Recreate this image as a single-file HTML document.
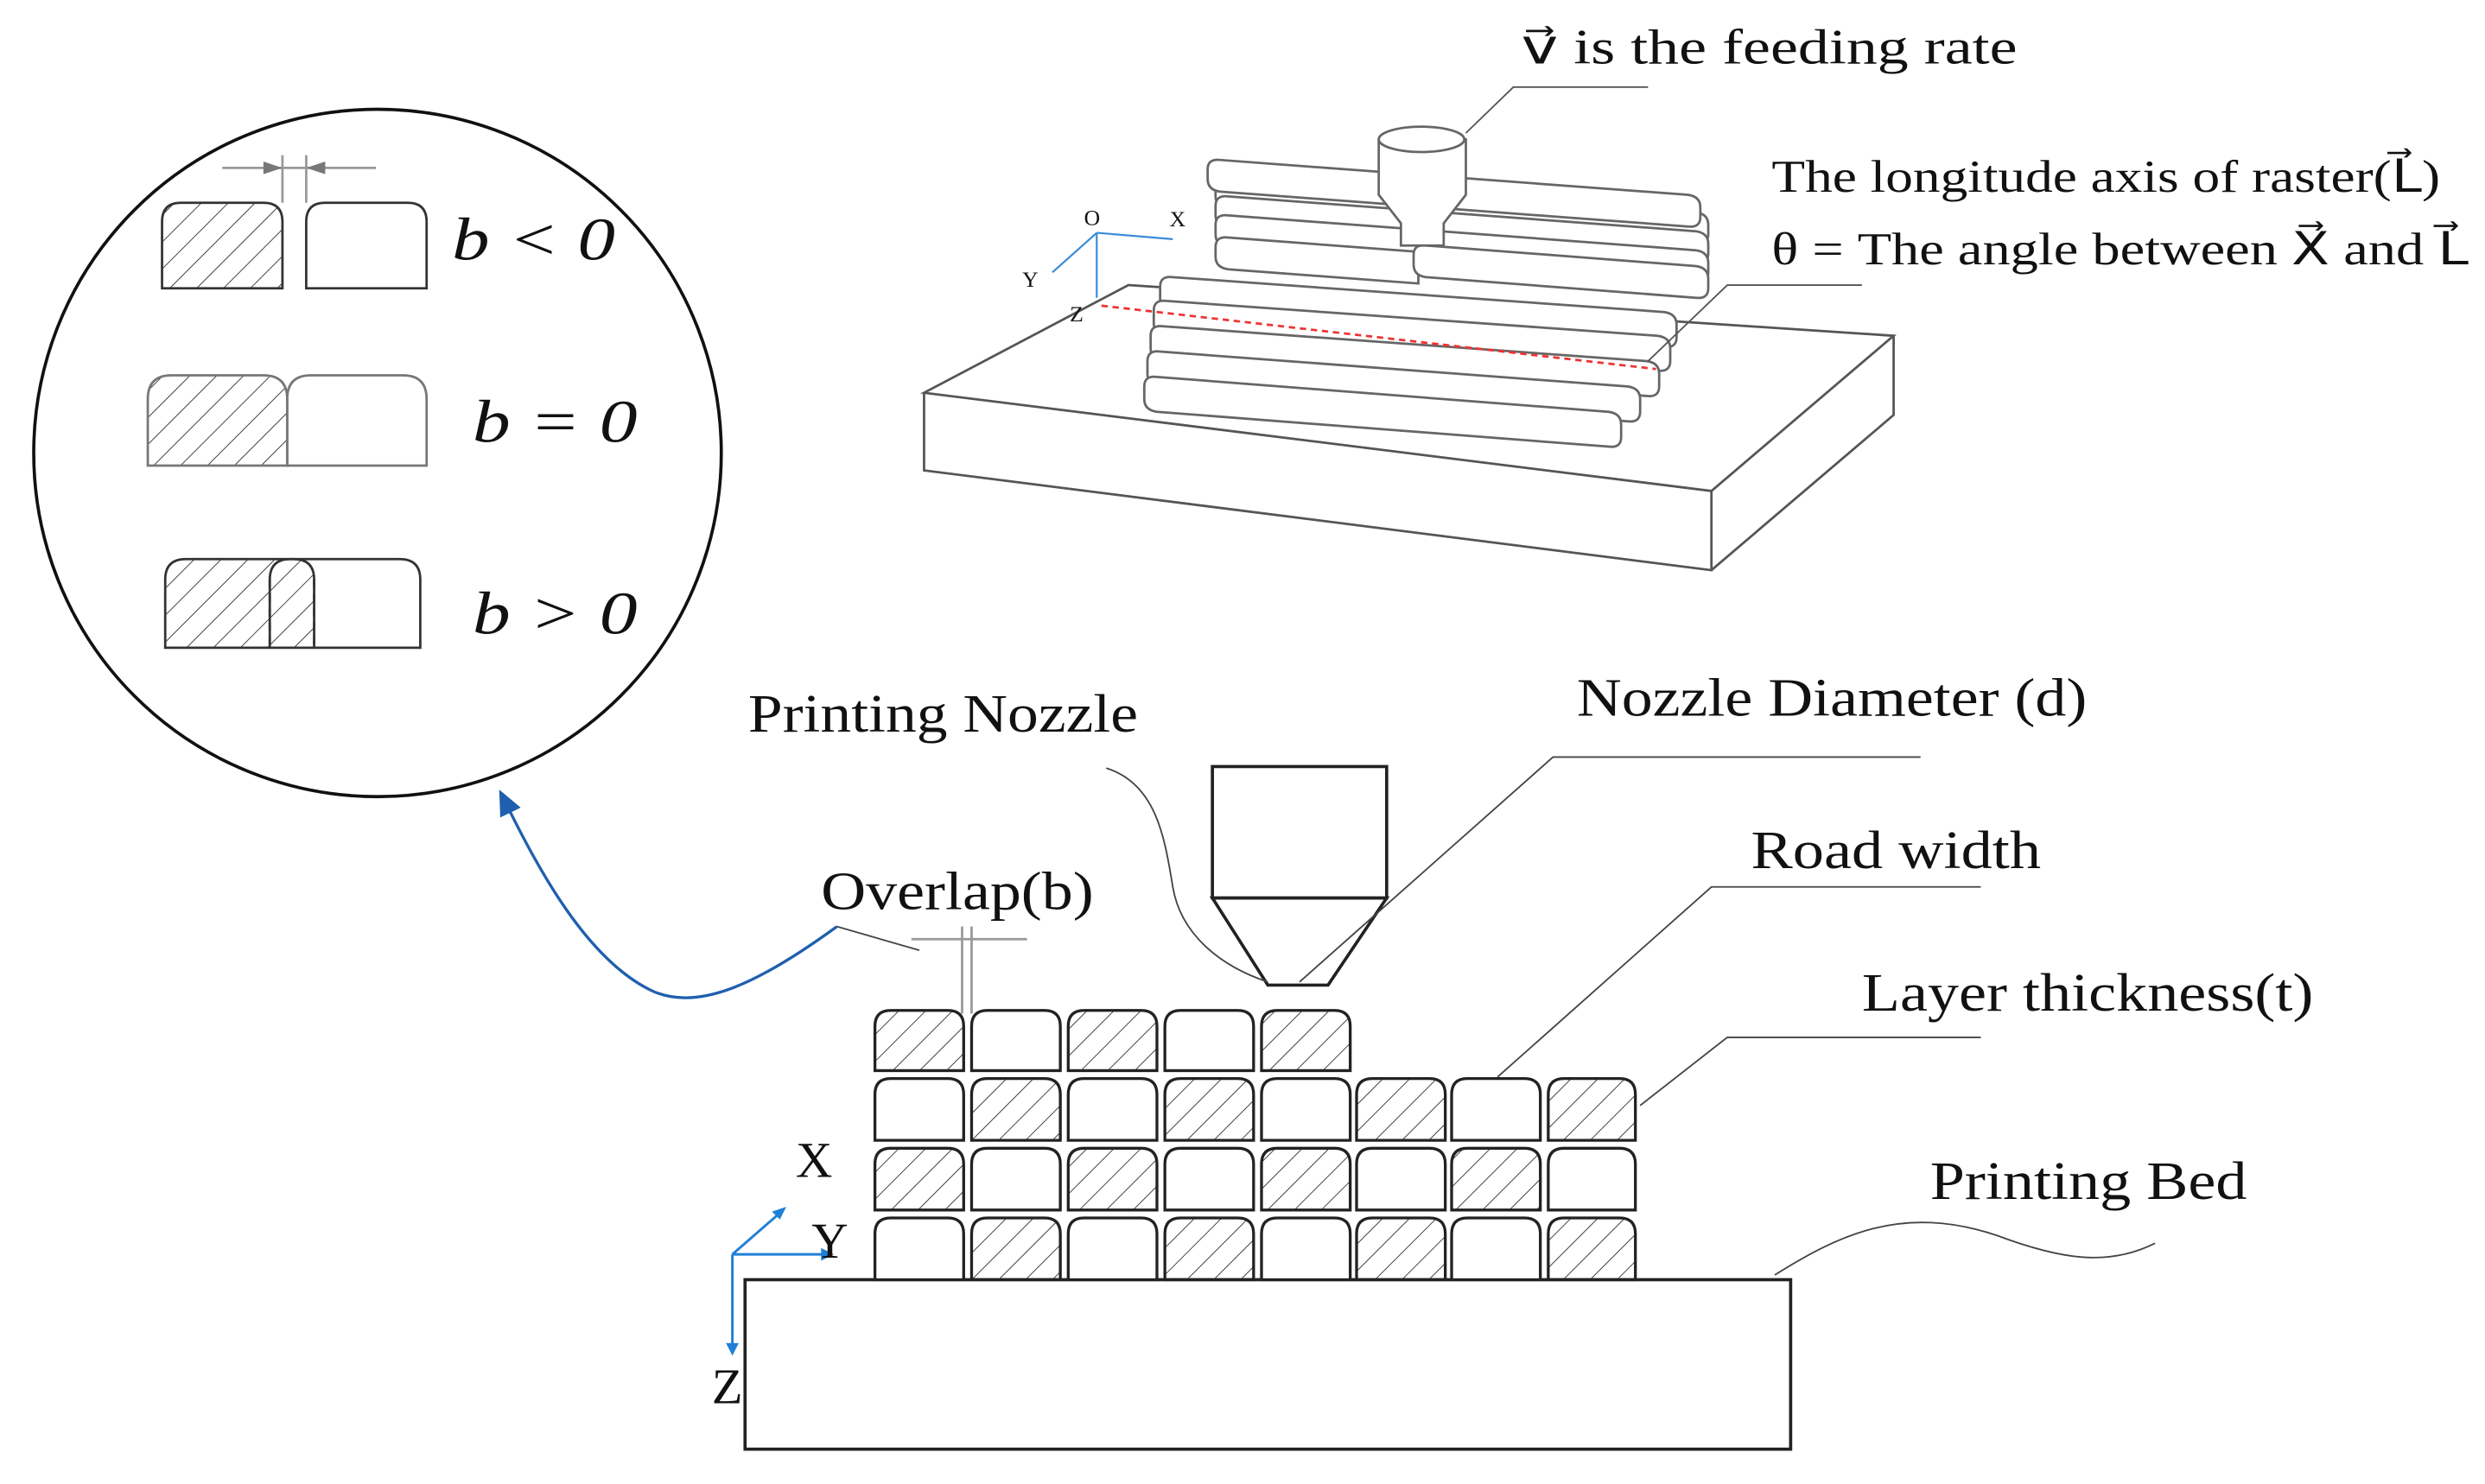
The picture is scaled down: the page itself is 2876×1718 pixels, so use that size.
<!DOCTYPE html>
<html><head><style>
html,body{margin:0;padding:0;background:#fff;}
svg{display:block;}
text{font-family:"Liberation Serif",serif;fill:#111;}
</style></head><body>
<svg width="2876" height="1718" viewBox="0 0 1568 937" xmlns="http://www.w3.org/2000/svg">
<defs>
<pattern id="h" width="12" height="12" patternUnits="userSpaceOnUse" patternTransform="rotate(45)">
<line x1="0" y1="0" x2="0" y2="12" stroke="#333" stroke-width="1"/>
</pattern>
<marker id="ar" markerWidth="10" markerHeight="10" refX="5" refY="5" orient="auto"><path d="M0,1 L9,5 L0,9 z" fill="#1f5fae"/></marker>
</defs>
<g fill="none" stroke="#333" stroke-width="1.5">
<circle cx="238" cy="286" r="217" stroke="#111" stroke-width="2"/>
<path d="M102,182 V140 q0,-12 12,-12 H166 q12,0 12,12 V182 Z" fill="url(#h)"/>
<path d="M193,182 V140 q0,-12 12,-12 H257 q12,0 12,12 V182 Z"/>
<line x1="178" y1="98" x2="178" y2="128" stroke="#999"/><line x1="193" y1="98" x2="193" y2="128" stroke="#999"/>
<line x1="140" y1="106" x2="237" y2="106" stroke="#999"/>
<path d="M178,106 l-12,-4 v8z M193,106 l12,-4 v8z" fill="#777" stroke="none"/>
<path d="M93,294 V252 q0,-15 15,-15 H166 q15,0 15,15 V294 Z" fill="url(#h)" stroke="#777"/>
<path d="M181,294 V252 q0,-15 15,-15 H254 q15,0 15,15 V294 Z" stroke="#777"/>
<path d="M104,409 V366 q0,-13 13,-13 H185 q13,0 13,13 V409 Z" fill="url(#h)"/>
<path d="M198,409 H265 V366 q0,-13 -13,-13 H183 q-13,0 -13,13 V409" />
<line x1="170" y1="366" x2="170" y2="409" stroke-dasharray="5,4"/>
<line x1="198" y1="366" x2="198" y2="409" stroke-dasharray="5,4"/>
<path d="M528,585 C480,620 440,640 410,625 C370,605 340,550 318,505" stroke="#1f5fae" stroke-width="1.8" marker-end="url(#ar)"/>
<path d="M583,248 L712,180 L1195,212 L1080,310 Z" stroke="#555"/>
<path d="M583,248 V297 L1080,360 V310" stroke="#555"/>
<path d="M1080,360 L1195,262 V212" stroke="#555"/>
<g stroke="#666" fill="#fff">
<path d="M775,112 l295,22 q8,1 8,8 v6 q0,7 -8,6 l-295,-22 q-8,-1 -8,-8 v-6 q0,-7 8,-6z"/>
<path d="M775,124 l295,22 q8,1 8,8 v6 q0,7 -8,6 l-295,-22 q-8,-1 -8,-8 v-6 q0,-7 8,-6z"/>
<path d="M775,136 l295,22 q8,1 8,8 v6 q0,7 -8,6 l-295,-22 q-8,-1 -8,-8 v-6 q0,-7 8,-6z"/>
<path d="M770,101 l295,22 q8,1 8,8 v6 q0,7 -8,6 l-295,-22 q-8,-1 -8,-8 v-6 q0,-7 8,-6z"/>
<path d="M740,175 l310,22 q8,1 8,8 v8 q0,7 -8,6 l-310,-22 q-8,-1 -8,-8 v-8 q0,-7 8,-6z"/>
<path d="M736,190 l310,22 q8,1 8,8 v8 q0,7 -8,6 l-310,-22 q-8,-1 -8,-8 v-8 q0,-7 8,-6z"/>
<path d="M734,206 l305,22 q8,1 8,8 v8 q0,7 -8,6 l-305,-22 q-8,-1 -8,-8 v-8 q0,-7 8,-6z"/>
<path d="M732,222 l295,22 q8,1 8,8 v8 q0,7 -8,6 l-295,-22 q-8,-1 -8,-8 v-8 q0,-7 8,-6z"/>
<path d="M730,238 l285,22 q8,1 8,8 v8 q0,7 -8,6 l-285,-22 q-8,-1 -8,-8 v-8 q0,-7 8,-6z"/>
<path d="M775,150 l120,9 v20 l-120,-9 q-8,-1 -8,-8 v-6 q0,-7 8,-6z"/>
<path d="M900,155 l170,13 q8,1 8,8 v6 q0,7 -8,6 l-170,-13 q-8,-1 -8,-8 v-6 q0,-7 8,-6z"/>
<path d="M870,88 h55 v35 l-14,18 v14 h-27 v-14 l-14,-18z"/>
<ellipse cx="897" cy="88" rx="27" ry="8"/>
</g>
<line x1="695" y1="193" x2="1045" y2="233" stroke="#e33" stroke-dasharray="4,3"/>
<g stroke="#3a8ad8" stroke-width="1.2"><line x1="692" y1="147" x2="740" y2="151"/><line x1="692" y1="147" x2="692" y2="188"/><line x1="692" y1="147" x2="664" y2="172"/></g>
<path d="M925,84 L955,55 H1040" stroke="#555" stroke-width="1"/>
<path d="M1040,228 L1090,180 H1175" stroke="#555" stroke-width="1"/>
<rect x="470" y="808" width="660" height="107" stroke="#222" stroke-width="2"/>
<rect x="765" y="484" width="110" height="83" stroke="#222" stroke-width="2"/>
<path d="M765,567 L875,567 L838,622 L800,622 Z" stroke="#222" stroke-width="2"/>
<path d="M698,485 C730,495 735,530 740,560 C745,590 770,610 800,620" stroke="#444" stroke-width="1"/>
<path d="M820,620 L980,478 H1212" stroke="#444" stroke-width="1"/>
<path d="M945,680 L1080,560 H1250" stroke="#444" stroke-width="1"/>
<path d="M1035,698 L1090,655 H1250" stroke="#444" stroke-width="1"/>
<path d="M1120,805 C1160,780 1200,760 1260,780 C1300,795 1330,800 1360,785" stroke="#444" stroke-width="1"/>
<path d="M528,585 L580,600" stroke="#444" stroke-width="1"/>
<line x1="607" y1="585" x2="607" y2="640" stroke="#999"/><line x1="613" y1="585" x2="613" y2="640" stroke="#999"/>
<line x1="575" y1="593" x2="648" y2="593" stroke="#999"/>
<g stroke="#1f7fd6" stroke-width="1.6">
<line x1="462" y1="792" x2="520" y2="792"/><line x1="462" y1="792" x2="462" y2="852"/><line x1="462" y1="792" x2="493" y2="765"/>
</g>
<path d="M526,792 l-8,-4 v8z M462,856 l-4,-8 h8z M496,762 l-9,3 l5,5z" fill="#1f7fd6" stroke="none"/>
</g>
<g stroke="#222" stroke-width="1.8">
<path d="M552,676 V648 q0,-10 10,-10 H598 q10,0 10,10 V676 Z" fill="url(#h)"/>
<path d="M613,676 V648 q0,-10 10,-10 H659 q10,0 10,10 V676 Z" fill="#fff"/>
<path d="M674,676 V648 q0,-10 10,-10 H720 q10,0 10,10 V676 Z" fill="url(#h)"/>
<path d="M735,676 V648 q0,-10 10,-10 H781 q10,0 10,10 V676 Z" fill="#fff"/>
<path d="M796,676 V648 q0,-10 10,-10 H842 q10,0 10,10 V676 Z" fill="url(#h)"/>
<g transform="translate(0,43)">
<path d="M552,677 V648 q0,-10 10,-10 H598 q10,0 10,10 V677 Z" fill="#fff"/>
<path d="M613,677 V648 q0,-10 10,-10 H659 q10,0 10,10 V677 Z" fill="url(#h)"/>
<path d="M674,677 V648 q0,-10 10,-10 H720 q10,0 10,10 V677 Z" fill="#fff"/>
<path d="M735,677 V648 q0,-10 10,-10 H781 q10,0 10,10 V677 Z" fill="url(#h)"/>
<path d="M796,677 V648 q0,-10 10,-10 H842 q10,0 10,10 V677 Z" fill="#fff"/>
<path d="M856,677 V648 q0,-10 10,-10 H902 q10,0 10,10 V677 Z" fill="url(#h)"/>
<path d="M916,677 V648 q0,-10 10,-10 H962 q10,0 10,10 V677 Z" fill="#fff"/>
<path d="M977,677 V648 q0,-10 10,-10 H1022 q10,0 10,10 V677 Z" fill="url(#h)"/>
</g>
<g transform="translate(0,87)">
<path d="M552,677 V648 q0,-10 10,-10 H598 q10,0 10,10 V677 Z" fill="url(#h)"/>
<path d="M613,677 V648 q0,-10 10,-10 H659 q10,0 10,10 V677 Z" fill="#fff"/>
<path d="M674,677 V648 q0,-10 10,-10 H720 q10,0 10,10 V677 Z" fill="url(#h)"/>
<path d="M735,677 V648 q0,-10 10,-10 H781 q10,0 10,10 V677 Z" fill="#fff"/>
<path d="M796,677 V648 q0,-10 10,-10 H842 q10,0 10,10 V677 Z" fill="url(#h)"/>
<path d="M856,677 V648 q0,-10 10,-10 H902 q10,0 10,10 V677 Z" fill="#fff"/>
<path d="M916,677 V648 q0,-10 10,-10 H962 q10,0 10,10 V677 Z" fill="url(#h)"/>
<path d="M977,677 V648 q0,-10 10,-10 H1022 q10,0 10,10 V677 Z" fill="#fff"/>
</g>
<g transform="translate(0,131)">
<path d="M552,677 V648 q0,-10 10,-10 H598 q10,0 10,10 V677 Z" fill="#fff"/>
<path d="M613,677 V648 q0,-10 10,-10 H659 q10,0 10,10 V677 Z" fill="url(#h)"/>
<path d="M674,677 V648 q0,-10 10,-10 H720 q10,0 10,10 V677 Z" fill="#fff"/>
<path d="M735,677 V648 q0,-10 10,-10 H781 q10,0 10,10 V677 Z" fill="url(#h)"/>
<path d="M796,677 V648 q0,-10 10,-10 H842 q10,0 10,10 V677 Z" fill="#fff"/>
<path d="M856,677 V648 q0,-10 10,-10 H902 q10,0 10,10 V677 Z" fill="url(#h)"/>
<path d="M916,677 V648 q0,-10 10,-10 H962 q10,0 10,10 V677 Z" fill="#fff"/>
<path d="M977,677 V648 q0,-10 10,-10 H1022 q10,0 10,10 V677 Z" fill="url(#h)"/>
</g>
</g>
<text x="285" y="164" font-size="38" font-style="italic" textLength="103" lengthAdjust="spacingAndGlyphs">b &lt; 0</text>
<text x="298" y="279" font-size="38" font-style="italic" textLength="104" lengthAdjust="spacingAndGlyphs">b = 0</text>
<text x="298" y="400" font-size="38" font-style="italic" textLength="104" lengthAdjust="spacingAndGlyphs">b &gt; 0</text>
<text x="960" y="40" font-size="31" textLength="313" lengthAdjust="spacingAndGlyphs">v⃗ is the feeding rate</text>
<text x="1118" y="121" font-size="29" textLength="422" lengthAdjust="spacingAndGlyphs">The longitude axis of raster(L⃗)</text>
<text x="1118" y="167" font-size="29" textLength="440" lengthAdjust="spacingAndGlyphs">θ = The angle between X⃗ and L⃗</text>
<text x="684" y="142" font-size="14">O</text><text x="738" y="143" font-size="14">X</text>
<text x="645" y="181" font-size="14">Y</text><text x="675" y="203" font-size="14">Z</text>
<text x="472" y="462" font-size="34" textLength="246" lengthAdjust="spacingAndGlyphs">Printing Nozzle</text>
<text x="995" y="452" font-size="34" textLength="322" lengthAdjust="spacingAndGlyphs">Nozzle Diameter (d)</text>
<text x="1105" y="548" font-size="34" textLength="183" lengthAdjust="spacingAndGlyphs">Road width</text>
<text x="1175" y="638" font-size="34" textLength="285" lengthAdjust="spacingAndGlyphs">Layer thickness(t)</text>
<text x="1218" y="757" font-size="34" textLength="200" lengthAdjust="spacingAndGlyphs">Printing Bed</text>
<text x="518" y="574" font-size="34" textLength="172" lengthAdjust="spacingAndGlyphs">Overlap(b)</text>
<text x="502" y="743" font-size="32">X</text>
<text x="512" y="794" font-size="32">Y</text>
<text x="449" y="886" font-size="32">Z</text>
</svg>
</body></html>
